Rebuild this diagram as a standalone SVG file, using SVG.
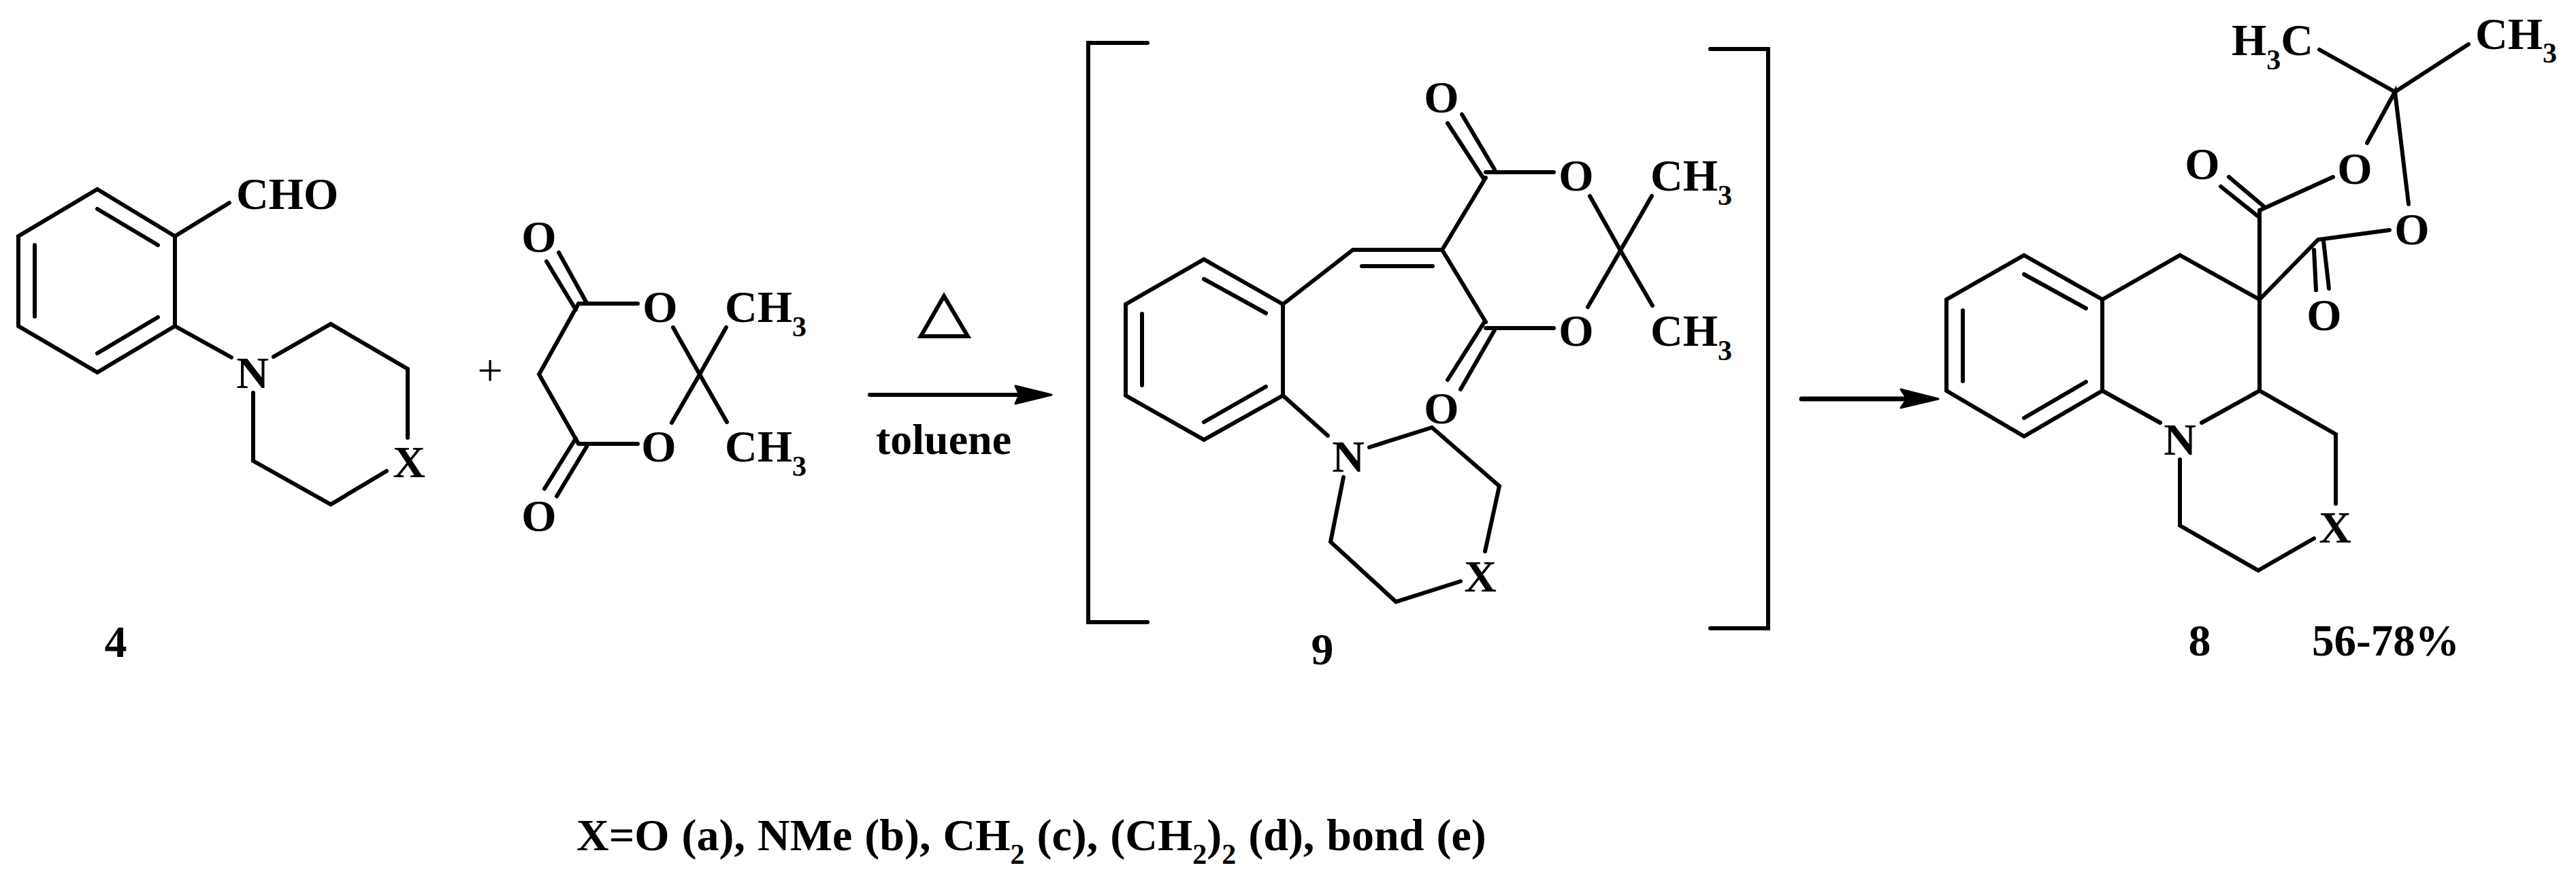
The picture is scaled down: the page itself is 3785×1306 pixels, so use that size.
<svg xmlns="http://www.w3.org/2000/svg" width="3785" height="1306" viewBox="0 0 3785 1306">
<style>
.b{fill:none;stroke:#000;stroke-width:6;stroke-linecap:round;stroke-linejoin:miter}
.t{font-family:"Liberation Serif","Times New Roman",serif;font-weight:bold;font-size:66px;fill:#000}
.m{text-anchor:middle}
.s{font-size:42px}
.h{fill:#000;stroke:#000;stroke-width:3;stroke-linejoin:round}
</style>
<rect width="3785" height="1306" fill="#fff"/>
<g id="compound-4">
<path class="b" d="M143 278L257 347V479L143 547L27 479V347ZM143 307L232 360M51 360V465M143 519L232 466M257 347L337 298M257 479L340 525M402 524L486 476L599 542V643M568 692L486 741L372 677V577"/>
<text class="t" x="347" y="307">CHO</text>
<text class="t m" x="371" y="570">N</text>
<text class="t m" x="601" y="701">X</text>
<text class="t m" x="170" y="965">4</text>
</g>
<g id="plus"><text class="t m" x="720" y="566" style="font-weight:normal">+</text></g>
<g id="meldrum-acid">
<path class="b" d="M850 446L792 550L850 652M850 446H937M850 652H937M821 371L862 445M803 384L846 455M989 481L1028 550L1067 481M1028 550L987 621M1028 550L1068 620M862 656L818 729M846 644L800 718"/>
<text class="t m" x="792" y="370">O</text>
<text class="t m" x="970" y="473">O</text>
<text class="t m" x="968" y="678">O</text>
<text class="t m" x="792" y="780">O</text>
<text class="t" x="1065" y="473">CH<tspan class="s" dy="21">3</tspan></text>
<text class="t" x="1065" y="678">CH<tspan class="s" dy="21">3</tspan></text>
</g>
<g id="conditions">
<path class="b" d="M1387 435L1353 494H1422Z"/>
<text class="t" x="1287" y="667" style="font-size:64px">toluene</text>
</g>
<g id="compound-9">
<path class="b" d="M1686 63H1599V914H1686M2513 72H2598V923H2513"/>
<path class="b" d="M1769 381L1885 447V581L1769 646L1654 581V447ZM1769 410L1860 460M1678 461V566M1769 620L1860 568M1885 447L1988 367H2119M2001 391H2105M2119 367L2183 261M2183 253H2283M2127 181L2181 264M2148 168L2196 249M2336 288L2381 368L2427 288M2381 368L2333 451M2381 368L2428 449M2119 367L2183 473M2183 482H2283M2196 485L2146 572M2181 473L2127 558M1885 581L1951 640M2012 657L2104 628L2203 714L2182 810M2146 854L2051 884L1955 796L1974 701"/>
<text class="t m" x="2118" y="165">O</text>
<text class="t m" x="2316" y="280">O</text>
<text class="t m" x="2316" y="508">O</text>
<text class="t m" x="2118" y="622">O</text>
<text class="t m" x="1981" y="693">N</text>
<text class="t m" x="2175" y="869">X</text>
<text class="t" x="2425" y="280">CH<tspan class="s" dy="21">3</tspan></text>
<text class="t" x="2425" y="508">CH<tspan class="s" dy="21">3</tspan></text>
<text class="t m" x="1943" y="976">9</text>
</g>
<g id="compound-8">
<path class="b" d="M2974 375L3089 440V574L2974 641L2860 574V440ZM2974 403L3065 453M2884 456V560M2974 614L3065 561M3089 440L3203 375L3320 440V574M3320 309V440M3089 574L3174 621M3235 621L3320 574L3432 638V740M3400 791L3318 838L3203 772V675M3320 309L3428 260M3263 274L3318 318M3275 260L3326 303M3320 440L3406 352L3511 338M3400 367L3403 426M3414 354L3422 424M3539 300L3519 135L3478 210M3519 135L3408 73M3519 135L3627 65"/>
<text class="t m" x="3236" y="263">O</text>
<text class="t m" x="3460" y="270">O</text>
<text class="t m" x="3544" y="359">O</text>
<text class="t m" x="3415" y="485">O</text>
<text class="t m" x="3203" y="668">N</text>
<text class="t m" x="3431" y="797">X</text>
<text class="t" x="3279" y="81">H<tspan class="s" dy="21">3</tspan><tspan dy="-21">C</tspan></text>
<text class="t" x="3637" y="72">CH<tspan class="s" dy="20">3</tspan></text>
<text class="t m" x="3232" y="963">8</text>
<text class="t" x="3397" y="963" style="font-size:65px">56-78%</text>
</g>
<g id="footer">
<text class="t" x="847" y="1249" style="word-spacing:1.5px">X=O (a), NMe (b), CH<tspan class="s" dy="20">2</tspan><tspan dy="-20"> (c), (CH</tspan><tspan class="s" dy="20">2</tspan><tspan dy="-20">)</tspan><tspan class="s" dy="20">2</tspan><tspan dy="-20"> (d), bond (e)</tspan></text>
</g>
<g id="connectors">
<path class="b" d="M1278 580H1498"/>
<path class="h" d="M1545 580L1492 567L1498 580L1492 593Z"/>
<path class="b" d="M2647 586H2802" style="stroke-width:7"/>
<path class="h" d="M2848 586L2793 572L2802 586L2793 599Z"/>
</g>
</svg>
